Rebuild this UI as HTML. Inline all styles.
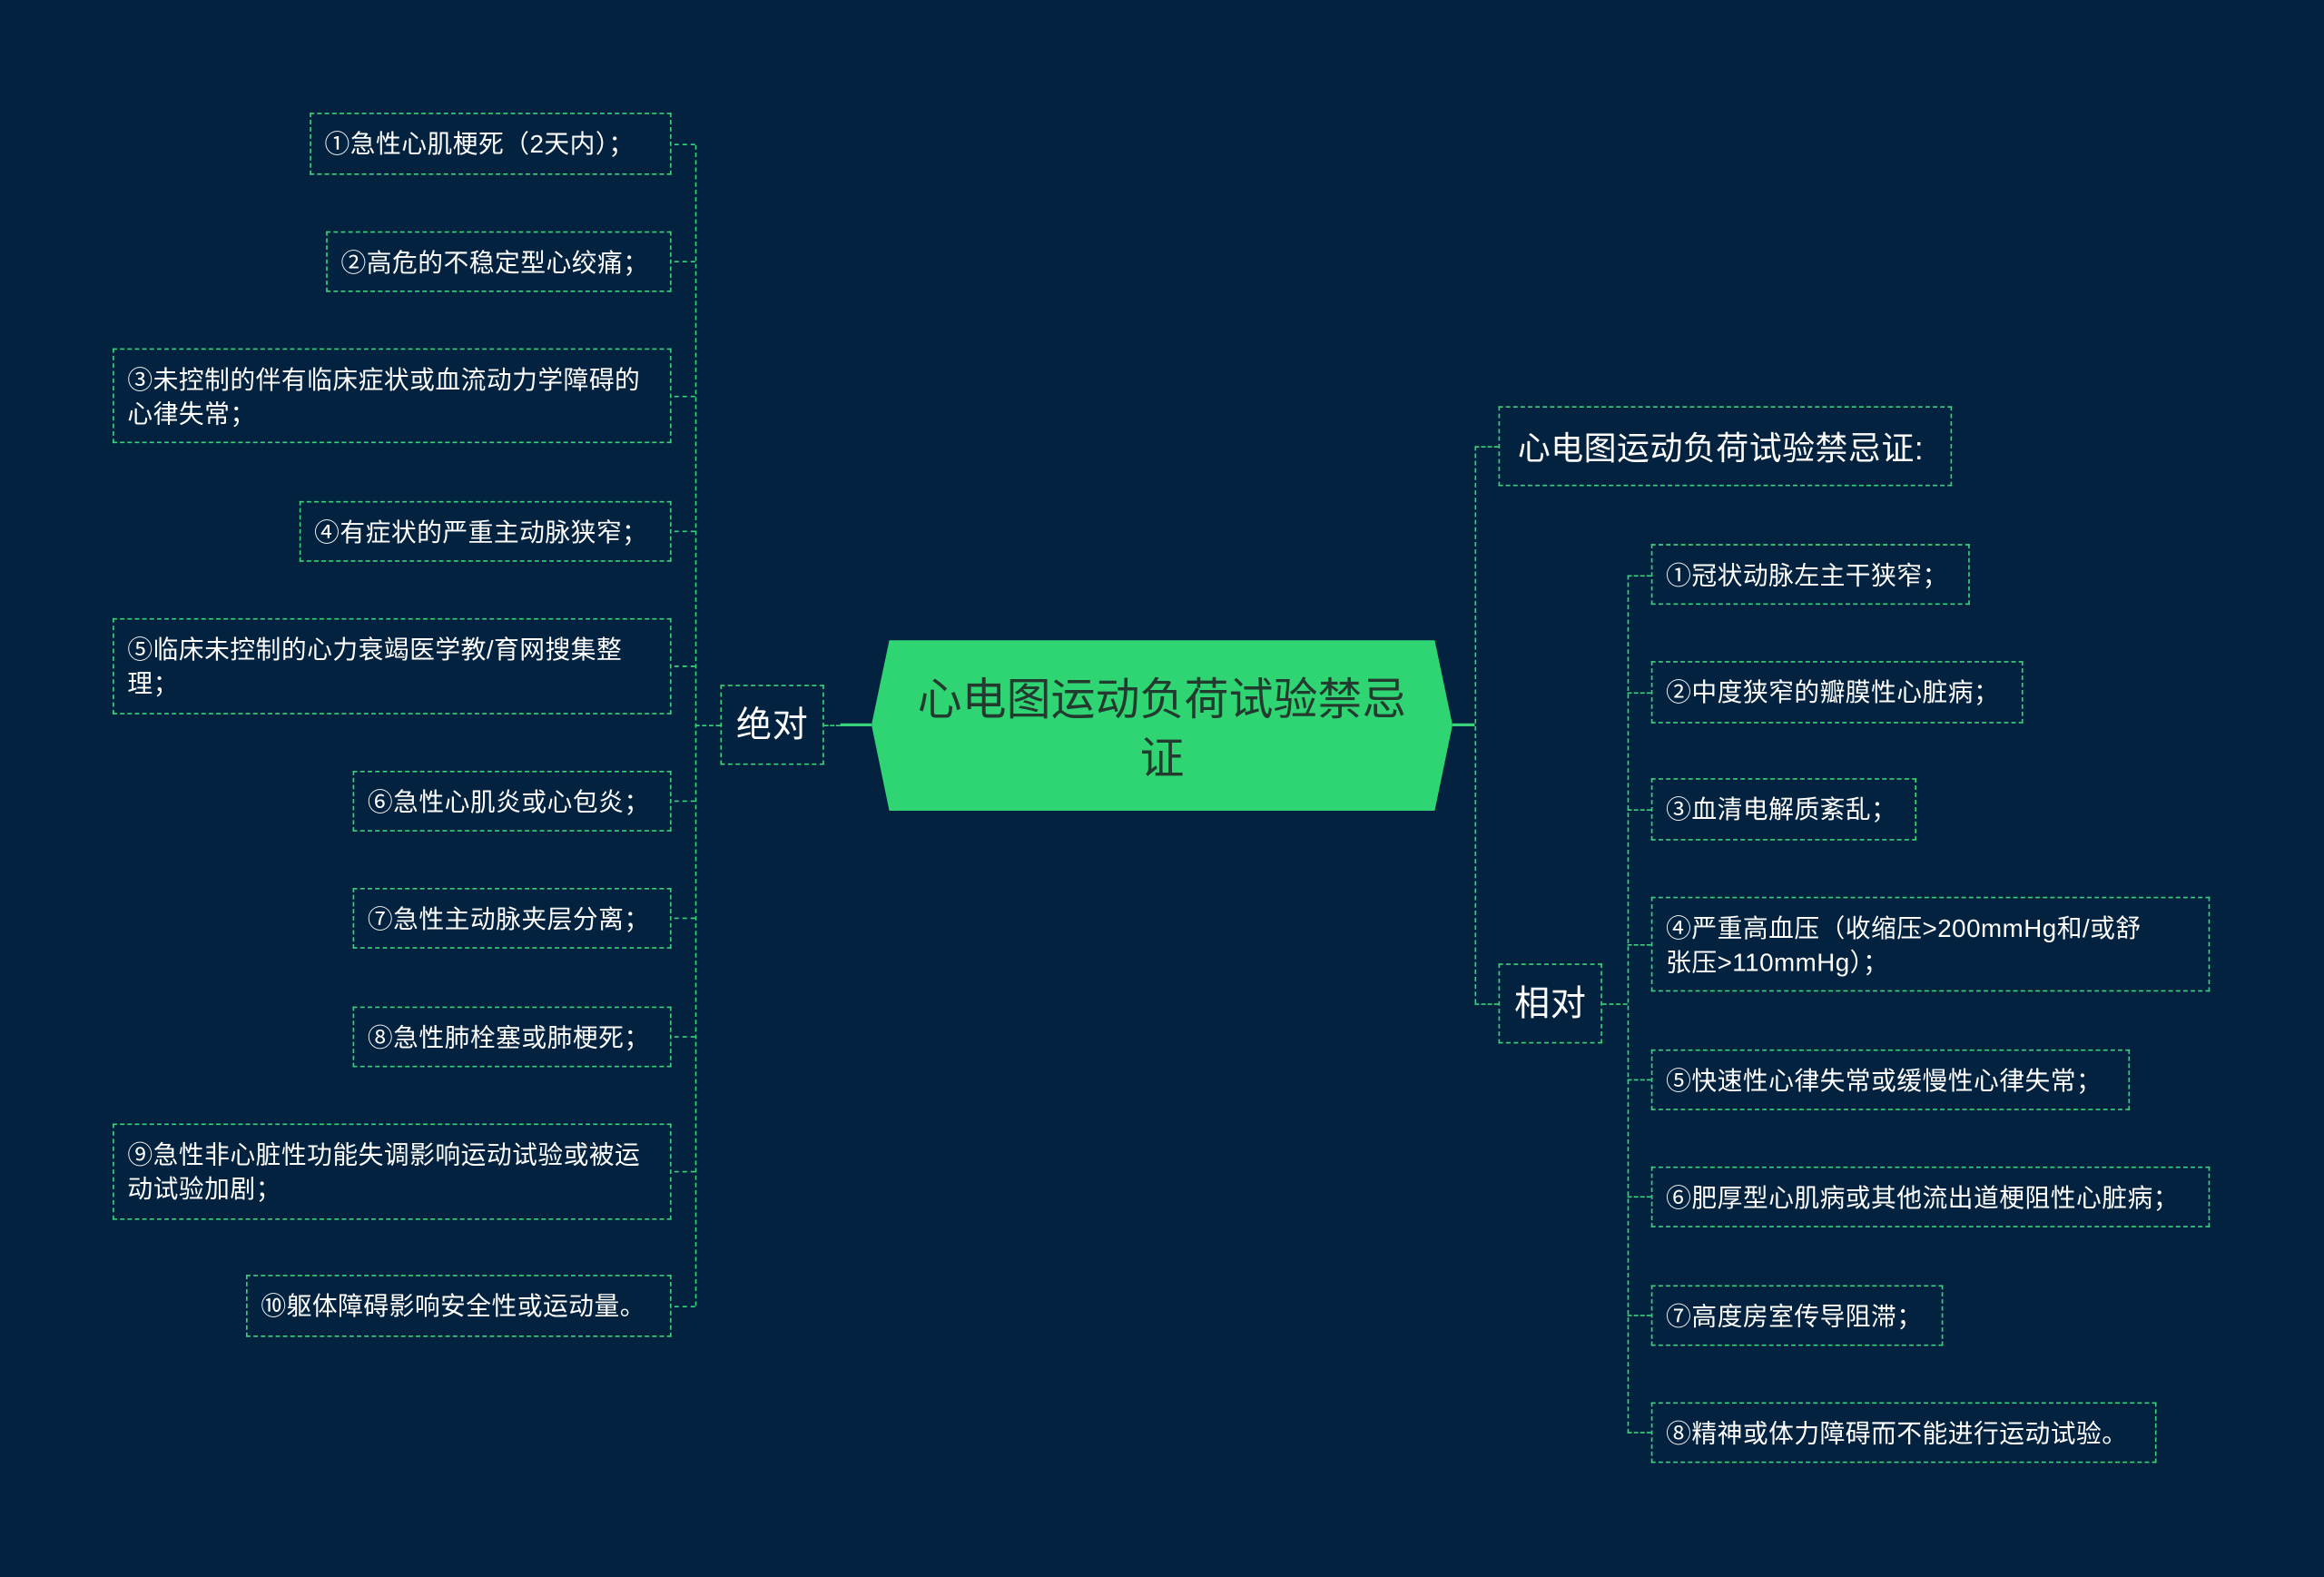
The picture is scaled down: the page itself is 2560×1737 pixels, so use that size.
<!DOCTYPE html>
<html><head><meta charset="utf-8"><style>
html,body{margin:0;padding:0;background:#02223f;}
#w{width:2560px;height:1737px;overflow:hidden;position:relative;background:#02223f;}
#s{position:absolute;left:0;top:0;width:1568px;height:1064px;transform:scale(1.63265);transform-origin:0 0;font-family:"Liberation Sans","Noto Sans CJK SC",sans-serif;}
.b{position:absolute;box-sizing:border-box;border:1.8px dashed #3bd37a;color:#fff;font-size:17px;line-height:23px;padding:9px 4px 0 9px;white-space:nowrap;letter-spacing:0.3px;}
.c{display:flex;align-items:center;padding-top:0;}
.vl{position:absolute;border-left:1.8px dashed #3bd37a;width:0;}
.hl{position:absolute;border-top:1.8px dashed #3bd37a;height:0;}
.sl{position:absolute;background:#3bd37a;height:2px;}
</style></head><body><div id="w"><div id="s">
<svg style="position:absolute;left:0;top:0" width="1568" height="1064"><polygon points="600,432 968,432 980,489 968,547 600,547 588,489" fill="#2fd573"/></svg>
<div style="position:absolute;left:600px;top:449px;width:368px;text-align:center;font-size:30px;line-height:40px;color:#233b2e;font-family:'Noto Sans CJK SC',sans-serif;">心电图运动负荷试验禁忌<br>证</div>
<div class="sl" style="left:567px;top:488px;width:21px"></div>
<div class="sl" style="left:980px;top:488px;width:15px"></div>
<div class="b c" style="left:486px;top:462px;width:70px;height:54px;font-size:24px;justify-content:center;padding:0">绝对</div>
<div class="hl" style="left:556px;top:489px;width:11px"></div>
<div class="vl" style="left:469px;top:98px;height:783px"></div>
<div class="hl" style="left:469px;top:489px;width:17px"></div>
<div class="b" style="left:209px;top:76px;width:244px;height:42px">①急性心肌梗死（2天内）；</div>
<div class="b" style="left:220px;top:156px;width:233px;height:41px">②高危的不稳定型心绞痛；</div>
<div class="b" style="left:76px;top:235px;width:377px;height:64px">③未控制的伴有临床症状或血流动力学障碍的<br>心律失常；</div>
<div class="b" style="left:202px;top:338px;width:251px;height:41px">④有症状的严重主动脉狭窄；</div>
<div class="b" style="left:76px;top:417px;width:377px;height:65px">⑤临床未控制的心力衰竭医学教/育网搜集整<br>理；</div>
<div class="b" style="left:238px;top:520px;width:215px;height:41px">⑥急性心肌炎或心包炎；</div>
<div class="b" style="left:238px;top:599px;width:215px;height:41px">⑦急性主动脉夹层分离；</div>
<div class="b" style="left:238px;top:679px;width:215px;height:41px">⑧急性肺栓塞或肺梗死；</div>
<div class="b" style="left:76px;top:758px;width:377px;height:65px">⑨急性非心脏性功能失调影响运动试验或被运<br>动试验加剧；</div>
<div class="b" style="left:166px;top:860px;width:287px;height:42px">⑩躯体障碍影响安全性或运动量。</div>
<div class="hl" style="left:455px;top:97px;width:14px"></div>
<div class="hl" style="left:455px;top:176px;width:14px"></div>
<div class="hl" style="left:455px;top:267px;width:14px"></div>
<div class="hl" style="left:455px;top:358px;width:14px"></div>
<div class="hl" style="left:455px;top:449px;width:14px"></div>
<div class="hl" style="left:455px;top:540px;width:14px"></div>
<div class="hl" style="left:455px;top:619px;width:14px"></div>
<div class="hl" style="left:455px;top:699px;width:14px"></div>
<div class="hl" style="left:455px;top:790px;width:14px"></div>
<div class="hl" style="left:455px;top:881px;width:14px"></div>
<div class="vl" style="left:995px;top:301px;height:376px"></div>
<div class="hl" style="left:995px;top:301px;width:16px"></div>
<div class="hl" style="left:995px;top:677px;width:16px"></div>
<div class="b c" style="left:1011px;top:274px;width:306px;height:54px;font-size:22px;padding:2px 0 0 12px">心电图运动负荷试验禁忌证:</div>
<div class="b c" style="left:1011px;top:650px;width:70px;height:54px;font-size:24px;justify-content:center;padding:0">相对</div>
<div class="hl" style="left:1081px;top:677px;width:17px"></div>
<div class="vl" style="left:1098px;top:388px;height:579px"></div>
<div class="b" style="left:1114px;top:367px;width:215px;height:41px">①冠状动脉左主干狭窄；</div>
<div class="b" style="left:1114px;top:446px;width:251px;height:42px">②中度狭窄的瓣膜性心脏病；</div>
<div class="b" style="left:1114px;top:525px;width:179px;height:42px">③血清电解质紊乱；</div>
<div class="b" style="left:1114px;top:605px;width:377px;height:64px">④严重高血压（收缩压&gt;200mmHg和/或舒<br>张压&gt;110mmHg）；</div>
<div class="b" style="left:1114px;top:708px;width:323px;height:41px">⑤快速性心律失常或缓慢性心律失常；</div>
<div class="b" style="left:1114px;top:787px;width:377px;height:41px">⑥肥厚型心肌病或其他流出道梗阻性心脏病；</div>
<div class="b" style="left:1114px;top:867px;width:197px;height:41px">⑦高度房室传导阻滞；</div>
<div class="b" style="left:1114px;top:946px;width:341px;height:41px">⑧精神或体力障碍而不能进行运动试验。</div>
<div class="hl" style="left:1098px;top:388px;width:16px"></div>
<div class="hl" style="left:1098px;top:467px;width:16px"></div>
<div class="hl" style="left:1098px;top:546px;width:16px"></div>
<div class="hl" style="left:1098px;top:637px;width:16px"></div>
<div class="hl" style="left:1098px;top:728px;width:16px"></div>
<div class="hl" style="left:1098px;top:807px;width:16px"></div>
<div class="hl" style="left:1098px;top:887px;width:16px"></div>
<div class="hl" style="left:1098px;top:966px;width:16px"></div>
</div></div></body></html>
